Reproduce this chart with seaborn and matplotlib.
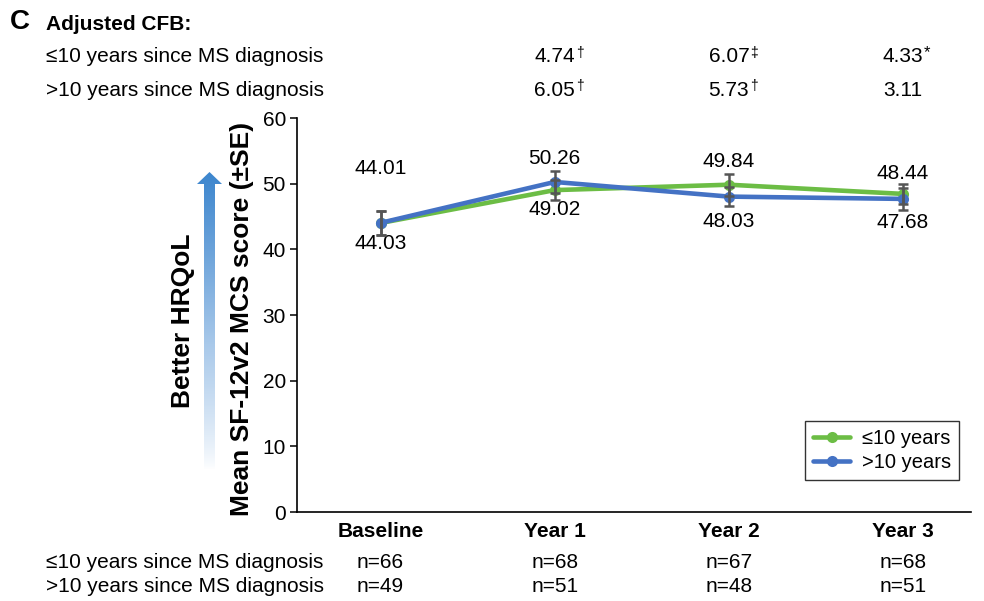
import numpy as np
import pandas as pd
import matplotlib
matplotlib.use("Agg")
import matplotlib.pyplot as plt
import seaborn as sns
from matplotlib.colors import LinearSegmentedColormap
from matplotlib.patches import Polygon

# chart values
timepoints = ['Baseline', 'Year 1', 'Year 2', 'Year 3']
groups = ['≤10 years', '>10 years']
le10_mean = [44.01, 49.02, 49.84, 48.44]
gt10_mean = [44.03, 50.26, 48.03, 47.68]
le10_se = [1.8, 1.5, 1.7, 1.5]
gt10_se = [1.8, 1.7, 1.4, 1.7]
le10_cfb = ['4.74', '6.07', '4.33']
le10_sig = ['†', '‡', '*']
gt10_cfb = ['6.05', '5.73', '3.11']
gt10_sig = ['†', '†', '']
le10_n = [66, 68, 67, 68]
gt10_n = [49, 51, 48, 51]
row_labels = ['≤10 years since MS diagnosis', '>10 years since MS diagnosis']

green = '#6CBD45'
blue = '#4472C4'
fs = 15

sns.set_theme(style='ticks')
plt.rcParams['font.family'] = ['Liberation Sans', 'DejaVu Sans']
for k in ['text.color', 'axes.labelcolor', 'xtick.color', 'ytick.color']:
    plt.rcParams[k] = 'black'

df = pd.DataFrame({
    'x': list(range(4)) * 2,
    'mean': le10_mean + gt10_mean,
    'se': le10_se + gt10_se,
    'group': [groups[0]] * 4 + [groups[1]] * 4,
})

fig = plt.figure(figsize=(9.84, 6.01), dpi=100)
ax = fig.add_axes([297 / 984, 1 - 512 / 601, 674 / 984, 394 / 601])

sns.lineplot(data=df, x='x', y='mean', hue='group', palette=[green, blue],
             marker='o', markersize=8, markeredgewidth=0, linewidth=3.3,
             ax=ax, zorder=3)
for g in groups:
    sub = df[df['group'] == g]
    ax.errorbar(sub['x'], sub['mean'], yerr=sub['se'], fmt='none',
                ecolor='#555555', elinewidth=1.8, capsize=3.5, capthick=1.8, zorder=4)

# value labels next to points
le10_off = [39, -14, 17, 15]
gt10_off = [-15, 17, -18, -17]
for i in range(4):
    ax.annotate(f'{le10_mean[i]:.2f}', (i, le10_mean[i]), xytext=(0, le10_off[i]),
                textcoords='offset points', ha='center', va='center', fontsize=fs)
    ax.annotate(f'{gt10_mean[i]:.2f}', (i, gt10_mean[i]), xytext=(0, gt10_off[i]),
                textcoords='offset points', ha='center', va='center', fontsize=fs)

ax.set_xlim(-0.48, 3.39)
ax.set_ylim(0, 60)
ax.set_yticks(range(0, 61, 10))
ax.set_xticks(range(4))
ax.set_xticklabels(timepoints, fontweight='bold', fontsize=fs)
ax.tick_params(axis='x', length=0, pad=7)
ax.tick_params(axis='y', length=5, width=1.1, labelsize=fs, pad=3, color='black')
for s in ['top', 'right']:
    ax.spines[s].set_visible(False)
for s in ['left', 'bottom']:
    ax.spines[s].set_linewidth(1.2)
    ax.spines[s].set_color('black')
ax.set_xlabel('')
ax.set_ylabel('Mean SF-12v2 MCS score (±SE)', fontweight='bold', fontsize=19)
ax.yaxis.set_label_coords(-0.064, 0.49)

leg = ax.legend(loc='lower right', bbox_to_anchor=(0.997, 0.055), fontsize=14.5,
                frameon=True, fancybox=False, edgecolor='black', handlelength=1.8,
                borderpad=0.4, labelspacing=0.25, handletextpad=0.6)
leg.get_frame().set_linewidth(1.0)

# header: adjusted change from baseline
fig.text(10 / 984, 1 - 22 / 601, 'C', fontsize=20, fontweight='bold', va='center')
fig.text(46 / 984, 1 - 24 / 601, 'Adjusted CFB:', fontsize=fs, fontweight='bold', va='center')
for yrow, vals, sigs, lab in [(1.155, le10_cfb, le10_sig, row_labels[0]),
                              (1.071, gt10_cfb, gt10_sig, row_labels[1])]:
    fig.text(46 / 984, 1 - (512 - yrow * 394) / 601, lab, fontsize=fs, va='center')
    for i, (v, s) in enumerate(zip(vals, sigs)):
        ax.text(i + 1, yrow, v, transform=ax.get_xaxis_transform(),
                ha='center', va='center', fontsize=fs, clip_on=False)
        if s:
            ax.annotate(s, (i + 1, yrow), xycoords=ax.get_xaxis_transform(),
                        xytext=(15, 3), textcoords='offset points',
                        ha='left', va='center', fontsize=12 if s == '*' else 10,
                        annotation_clip=False)

# sample sizes below the axis
for yrow, ns, lab in [(-0.129, le10_n, row_labels[0]), (-0.188, gt10_n, row_labels[1])]:
    fig.text(46 / 984, 1 - (512 - yrow * 394) / 601, lab, fontsize=fs, va='center')
    for i, n in enumerate(ns):
        ax.text(i, yrow, f'n={n}', transform=ax.get_xaxis_transform(),
                ha='center', va='center', fontsize=fs, clip_on=False)

# gradient "Better HRQoL" arrow
ov = fig.add_axes([0, 0, 1, 1], zorder=-1)
ov.set_xlim(0, 984)
ov.set_ylim(601, 0)
ov.axis('off')
arrow = Polygon([(204, 470), (204, 184), (197, 184), (209.5, 172), (222, 184),
                 (215, 184), (215, 470)], closed=True, facecolor='none', edgecolor='none')
ov.add_patch(arrow)
cmap = LinearSegmentedColormap.from_list('fade', ['#FFFFFF', '#A9C9EA', '#3D86CE'])
grad = np.linspace(1, 0, 256).reshape(-1, 1) ** 0.8
im = ov.imshow(grad, cmap=cmap, extent=(196, 223, 470, 172), aspect='auto',
               origin='upper', vmin=0, vmax=1)
im.set_clip_path(arrow)
fig.text(183 / 984, 1 - 321 / 601, 'Better HRQoL', rotation=90, fontsize=19,
         fontweight='bold', ha='center', va='center')

fig.savefig('out.png', dpi=100)
